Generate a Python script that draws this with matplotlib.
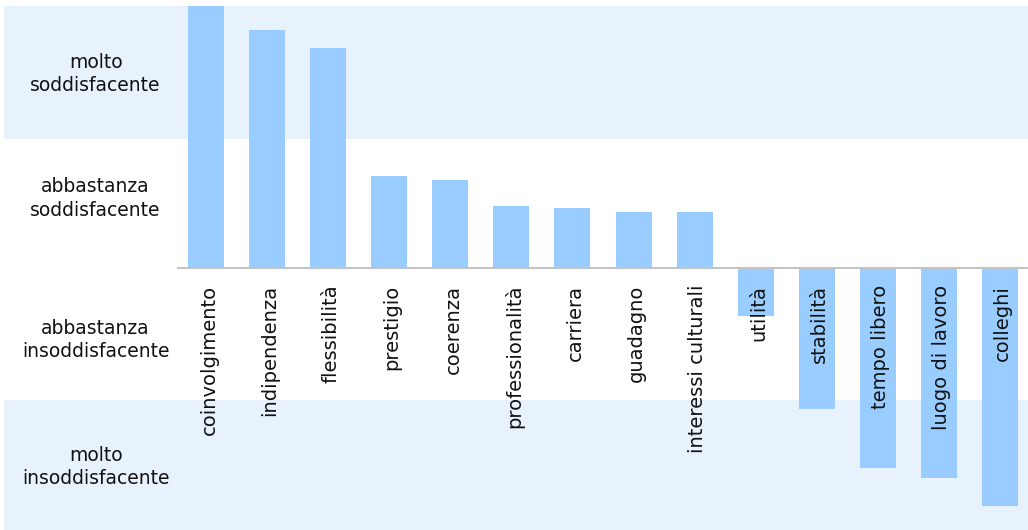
import matplotlib
matplotlib.use("Agg")
import matplotlib.pyplot as plt
from matplotlib.patches import Rectangle

categories = ["coinvolgimento", "indipendenza", "flessibilità", "prestigio", "coerenza",
              "professionalità", "carriera", "guadagno", "interessi culturali", "utilità",
              "stabilità", "tempo libero", "luogo di lavoro", "colleghi"]
values = [2.0, 1.82, 1.68, 0.70, 0.67, 0.47, 0.46, 0.43, 0.43, -0.37, -1.08, -1.53, -1.60, -1.82]
band_labels = ["molto\nsoddisfacente", "abbastanza\nsoddisfacente",
               "abbastanza\ninsoddisfacente", "molto\ninsoddisfacente"]
band_centers = [1.48, 0.53, -0.55, -1.52]

plt.rcParams['font.family'] = ['DejaVu Sans']
fig = plt.figure(figsize=(10.28, 5.30), dpi=100)
ax = fig.add_axes([4/1028, 0, 1024/1028, 524/530])
ax.set_xlim(-3.31, 13.46)
ax.set_ylim(-2, 2)
ax.axis('off')

band_color = "#e8f2fd"
ax.add_patch(Rectangle((-3.31, 0.985), 20, 1.1, color=band_color, zorder=0, lw=0))
ax.add_patch(Rectangle((-3.31, -2.1), 20, 1.093, color=band_color, zorder=0, lw=0))

xs = list(range(len(categories)))
ax.bar(xs, values, width=0.59, color="#99ccff", zorder=2)
ax.plot([-0.475, 13.46], [0, 0], color="#c4c4c4", lw=1.5, zorder=3, solid_capstyle='butt')

for x, lab in zip(xs, categories):
    ax.annotate(lab, (x, 0), xytext=(2, -12), textcoords='offset points',
                rotation=90, ha='center', va='top', fontsize=14, color="#111111", zorder=4)

for yc, lab in zip(band_centers, band_labels):
    ax.text(-1.81, yc, lab, ha='center', va='center', fontsize=13.5, color="#111111",
            linespacing=1.3)

fig.savefig("out.png", dpi=100)
